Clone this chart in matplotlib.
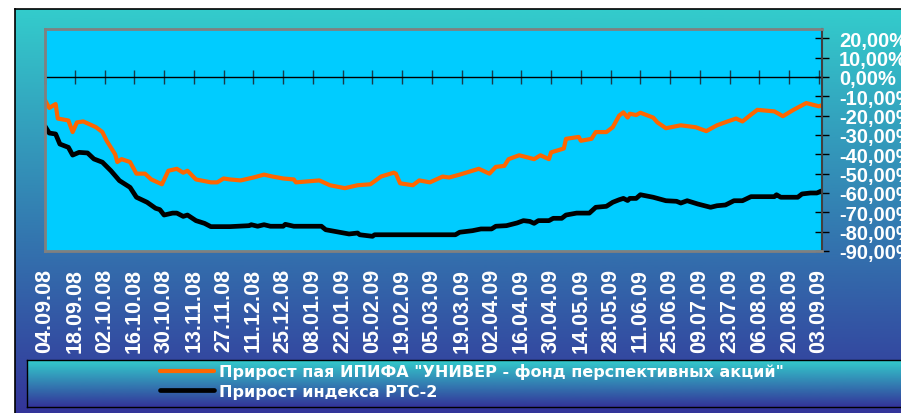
import numpy as np
import pandas as pd
import matplotlib
matplotlib.use('Agg')
import matplotlib.pyplot as plt
from matplotlib.colors import LinearSegmentedColormap
from matplotlib.ticker import FuncFormatter, MultipleLocator

# --- data ---
start = pd.Timestamp('2008-09-04')

tick_labels = ['04.09.08', '18.09.08', '02.10.08', '16.10.08', '30.10.08', '13.11.08',
               '27.11.08', '11.12.08', '25.12.08', '08.01.09', '22.01.09', '05.02.09',
               '19.02.09', '05.03.09', '19.03.09', '02.04.09', '16.04.09', '30.04.09',
               '14.05.09', '28.05.09', '11.06.09', '25.06.09', '09.07.09', '23.07.09',
               '06.08.09', '20.08.09', '03.09.09']

# days since 04.09.08, growth of the fund share (%)
fund_days = [0, 2, 5, 6, 11, 13, 15, 18, 24, 27, 29, 33, 34, 36, 40, 43, 47, 50, 55, 58,
             62, 65, 67, 71, 78, 81, 84, 87, 92, 98, 103, 107, 112, 117, 118, 129, 134, 141,
             147, 153, 158, 164, 165, 167, 173, 176, 181, 187, 190, 195, 201, 204, 209, 212,
             216, 218, 223, 230, 233, 237, 238, 244, 245, 251, 252, 257, 259, 264, 267, 270,
             272, 274, 275, 278, 280, 286, 288, 292, 299, 306, 311, 316, 321, 325, 328, 332,
             335, 343, 347, 352, 358, 364, 366]
fund_vals = [-12, -16, -14, -21.5, -22.5, -28.5, -23.5, -23, -26, -28.5, -33, -40, -44, -42.5,
             -44, -50, -50, -53, -55.5, -48.5, -47.5, -49.5, -48.5, -53, -54.5, -54.5, -52.5,
             -53, -53.5, -52, -50.5, -51.5, -52.5, -53, -54.5, -53.5, -56, -57.5, -56, -55.5,
             -51.5, -49.5, -50, -55, -56, -53.5, -54.5, -51.5, -52, -50.5, -48.5, -47.5, -50,
             -46.5, -46, -42.5, -40.5, -42.5, -40.5, -42.5, -39, -37, -32, -31, -33, -32,
             -28.5, -28.5, -26, -20, -18.3, -21, -19, -19.7, -18.5, -21, -23.5, -26.5, -25,
             -26, -28, -25, -23, -21.5, -23, -19.5, -17, -17.8, -20.3, -17, -13.5, -15.2, -14.3]

# days since 04.09.08, growth of the RTS-2 index (%)
rts_days = [0, 2, 5, 7, 11, 13, 16, 20, 23, 27, 31, 35, 40, 43, 48, 52, 54, 56, 60, 62, 65,
            67, 71, 75, 78, 87, 96, 97, 100, 103, 106, 112, 113, 117, 130, 132, 137, 143,
            147, 148, 154, 155, 193, 195, 201, 205, 210, 212, 217, 222, 225, 228, 230, 232,
            237, 239, 243, 245, 250, 256, 259, 264, 267, 270, 272, 274, 275, 278, 280, 286,
            292, 297, 299, 302, 307, 313, 316, 320, 324, 328, 332, 343, 344, 346, 354, 356,
            360, 363, 365]
rts_vals = [-25.5, -29, -29.5, -34.7, -36.4, -40.4, -39, -39.3, -42.4, -44.1, -48.5, -53.6,
            -57.1, -62.2, -64.8, -67.9, -68.6, -71.4, -70.4, -70.4, -72.1, -71.4, -74.3,
            -75.7, -77.4, -77.4, -76.9, -76.4, -77.2, -76.4, -77.2, -77.2, -76.2, -77.2,
            -77.2, -79, -80, -81.2, -80.7, -81.6, -82.4, -81.6, -81.6, -80.3, -79.5, -78.6,
            -78.6, -77.2, -76.9, -75.5, -74.3, -74.7, -75.7, -74.3, -74.3, -73.1, -73.1,
            -71.4, -70.4, -70.4, -67.4, -66.9, -64.8, -63.5, -62.8, -63.9, -62.8, -62.8,
            -60.9, -62.2, -64, -64.3, -65.2, -64, -65.7, -67.4, -66.6, -66.2, -64, -64,
            -61.9, -61.9, -60.9, -62.2, -62.2, -60.5, -60, -60, -59]

fund_label = 'Прирост пая ИПИФА "УНИВЕР - фонд перспективных акций"'
rts_label = 'Прирост индекса РТС-2'

fund_dates = start + pd.to_timedelta(fund_days, unit='D')
rts_dates = start + pd.to_timedelta(rts_days, unit='D')
tick_dates = pd.to_datetime(tick_labels, format='%d.%m.%y')

plt.rcParams['font.family'] = ['Liberation Sans', 'DejaVu Sans']
plt.rcParams['font.weight'] = 'bold'

W, H = 901, 414
def box(l, t, r, b):
    return [l / W, 1 - b / H, (r - l) / W, (b - t) / H]

grad_cmap = LinearSegmentedColormap.from_list('bg', ['#33CCCC', '#333399'])
grad = np.linspace(0, 1, 256).reshape(-1, 1)

fig = plt.figure(figsize=(9.01, 4.14), dpi=100)

# outer gradient panel
bg = fig.add_axes(box(15, 10, 905, 418))
bg.imshow(grad, cmap=grad_cmap, aspect='auto', extent=(0, 1, 0, 1))
bg.set_xticks([])
bg.set_yticks([])
for s in bg.spines.values():
    s.set_color('black')
    s.set_linewidth(1.2)

# plot area
ax = fig.add_axes(box(45, 30, 822, 252))
ax.set_facecolor('#00CCFF')
ax.plot(fund_dates, fund_vals, color='#FF6600', lw=3.0, label=fund_label,
        solid_joinstyle='round', solid_capstyle='round')
ax.plot(rts_dates, rts_vals, color='black', lw=3.4, label=rts_label,
        solid_joinstyle='round', solid_capstyle='round')
ax.set_ylim(-90, 24.8)
ax.set_xlim(start, start + pd.Timedelta(days=365.4))

for side in ['top', 'left', 'bottom']:
    ax.spines[side].set_color('#808080')
    ax.spines[side].set_linewidth(2)
ax.spines['right'].set_color('#404040')
ax.spines['right'].set_linewidth(1.5)

ax.yaxis.tick_right()
ax.yaxis.set_major_locator(MultipleLocator(10))
ax.yaxis.set_major_formatter(FuncFormatter(lambda v, p: f'{v:.2f}%'.replace('.', ',')))
ax.tick_params(axis='y', direction='inout', length=9.5, width=1, color='black',
               labelcolor='white', labelsize=14.5, pad=7.5)

ax.set_xticks(tick_dates)
ax.set_xticklabels(tick_labels, rotation=90)
ax.tick_params(axis='x', length=0, labelcolor='white', labelsize=15.5, pad=12.5)

# zero line with category tick marks
zero = ax.secondary_xaxis(0, transform=ax.transData)
zero.set_xticks(tick_dates)
zero.tick_params(axis='x', direction='inout', length=9.5, width=1, color='#1a3a4a',
                 labelbottom=False)
zero.spines['bottom'].set_color('black')
zero.spines['bottom'].set_linewidth(1)

# legend panel
lax = fig.add_axes(box(27, 361, 905, 408))
lax.imshow(grad, cmap=grad_cmap, aspect='auto', extent=(0, 1, 0, 1))
lax.set_xticks([])
lax.set_yticks([])
for s in lax.spines.values():
    s.set_color('black')
    s.set_linewidth(1)
handles, labels = ax.get_legend_handles_labels()
lax.legend(handles, labels, loc='center left', bbox_to_anchor=((160 - 27) / 878, 0.55),
           frameon=False, borderpad=0, borderaxespad=0, handlelength=3.4,
           handletextpad=0.3, labelspacing=0.3, labelcolor='white',
           prop={'size': 11.5, 'weight': 'bold', 'family': 'DejaVu Sans'})

fig.savefig('out.png', dpi=100)
